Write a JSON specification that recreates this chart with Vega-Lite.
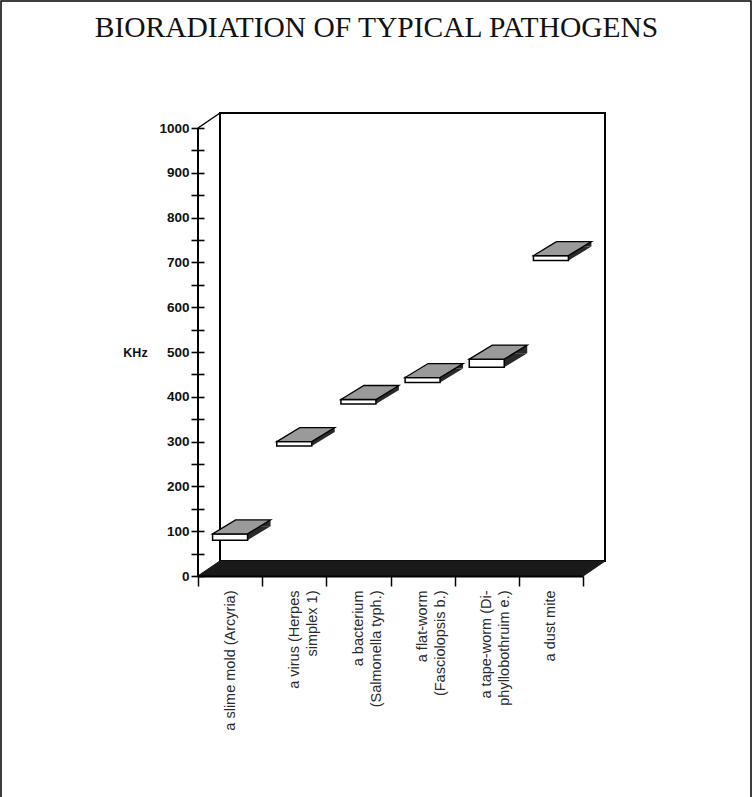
{
  "$schema": "https://vega.github.io/schema/vega-lite/v6.json",
  "width": 385,
  "height": 448,
  "autosize": {"type": "none"},
  "padding": {"left": 198, "top": 128, "right": 170, "bottom": 221},
  "background": "white",
  "config": {"view": {"stroke": null}},
  "title": {
    "text": "BIORADIATION OF TYPICAL PATHOGENS",
    "font": "Liberation Serif",
    "fontSize": 29.5,
    "fontWeight": "normal",
    "color": "#111111",
    "anchor": "middle",
    "offset": 0,
    "baseline": "alphabetic",
    "dx": -14,
    "dy": 66
  },
  "data": {
    "values": [
      {"item": "a slime mold (Arcyria)", "lo": 80, "hi": 94},
      {"item": "a virus (Herpes\nsimplex 1)", "lo": 290, "hi": 300},
      {"item": "a bacterium\n(Salmonella typh.)", "lo": 384, "hi": 394},
      {"item": "a flat-worm\n(Fasciolopsis b.)", "lo": 432, "hi": 443},
      {"item": "a tape-worm (Di-\nphyllobothruim e.)", "lo": 466, "hi": 484},
      {"item": "a dust mite", "lo": 704, "hi": 715}
    ]
  },
  "layer": [
    {
      "data": {"values": [{}]},
      "mark": {"type": "rect", "fillOpacity": 0, "stroke": "black", "strokeWidth": 1.5, "xOffset": -197, "x2Offset": 168, "yOffset": -127, "y2Offset": 240},
      "encoding": {
        "x": {"value": 0},
        "x2": {"value": "width"},
        "y": {"value": 0},
        "y2": {"value": "height"}
      }
    },
    {
      "data": {"values": [{}]},
      "mark": {"type": "rect", "fill": "white", "stroke": "black", "strokeWidth": 2, "xOffset": 22, "x2Offset": 22, "yOffset": -15, "y2Offset": -15},
      "encoding": {
        "x": {"value": 0},
        "x2": {"value": "width"},
        "y": {"datum": 1000, "type": "quantitative"},
        "y2": {"datum": 0}
      }
    },
    {
      "data": {"values": [{}]},
      "mark": {"type": "rule", "stroke": "black", "strokeWidth": 1.5, "x2Offset": 22, "y2Offset": -15},
      "encoding": {
        "x": {"value": 0},
        "x2": {"value": 0},
        "y": {"datum": 1000, "type": "quantitative"},
        "y2": {"datum": 1000}
      }
    },
    {
      "data": {"values": [{}]},
      "mark": {"type": "rule", "stroke": "black", "strokeWidth": 2},
      "encoding": {
        "x": {"value": 0},
        "y": {"datum": 0, "type": "quantitative"},
        "y2": {"datum": 1000}
      }
    },
    {
      "mark": {"type": "point", "shape": "M-32.3,0 L32.3,0 L54.3,-15 L-10.3,-15 Z", "size": 4, "filled": true, "fill": "#1a1a1a", "stroke": "#1a1a1a", "strokeWidth": 1, "opacity": 1},
      "encoding": {
        "x": {"field": "item", "type": "nominal", "sort": null},
        "y": {"datum": 0, "type": "quantitative"}
      }
    },
    {
      "mark": {"type": "point", "shape": "M-17.5,0 L17.5,0 L40.5,-14 L5.5,-14 Z", "size": 4, "filled": true, "fill": "#2a2a2a", "strokeWidth": 0, "opacity": 1},
      "encoding": {
        "x": {"field": "item", "type": "nominal", "sort": null},
        "y": {"field": "lo", "type": "quantitative"}
      }
    },
    {
      "mark": {"type": "bar", "width": {"band": 0.545}, "fill": "#2a2a2a", "strokeWidth": 0, "xOffset": 23, "yOffset": -14, "y2Offset": -14},
      "encoding": {
        "x": {"field": "item", "type": "nominal", "sort": null},
        "y": {"field": "lo", "type": "quantitative"},
        "y2": {"field": "hi"}
      }
    },
    {
      "mark": {"type": "bar", "width": {"band": 0.545}, "fill": "white", "stroke": "black", "strokeWidth": 1.5},
      "encoding": {
        "x": {
          "field": "item",
          "type": "nominal",
          "sort": null,
          "scale": {"paddingInner": 0, "paddingOuter": 0},
          "axis": {
            "title": null,
            "tickBand": "extent",
            "tickSize": 10,
            "tickWidth": 1.5,
            "tickColor": "black",
            "domainColor": "black",
            "domainWidth": 2,
            "labelAngle": 270,
            "labelAlign": "right",
            "labelBaseline": "middle",
            "labelPadding": 4,
            "labelFont": "Liberation Sans",
            "labelFontSize": 14.5,
            "labelColor": "#2a2a2a",
            "labelLineHeight": 18,
            "labelLimit": 0,
            "labelOverlap": false,
            "labelExpr": "split(datum.label, '\\n')",
            "zindex": 1
          }
        },
        "y": {
          "field": "lo",
          "type": "quantitative",
          "scale": {"domain": [0, 1000], "nice": false},
          "axis": {
            "title": "KHz",
            "tickCount": 20,
            "format": "d",
            "labelExpr": "datum.value % 100 === 0 ? datum.label : ''",
            "offset": -6,
            "tickSize": 13,
            "tickWidth": 1.6,
            "tickColor": "black",
            "ticks": true,
            "domain": false,
            "grid": false,
            "labelFont": "Liberation Sans",
            "labelFontSize": 13.5,
            "labelFontWeight": "bold",
            "labelColor": "#111111",
            "labelPadding": 2,
            "labelOverlap": false,
            "labelFlush": false,
            "titleAngle": 0,
            "titleAlign": "center",
            "titleBaseline": "middle",
            "titleX": -69,
            "titleY": 224,
            "titleFont": "Liberation Sans",
            "titleFontSize": 12.5,
            "titleFontWeight": "bold",
            "titleColor": "#111111",
            "zindex": 1
          }
        },
        "y2": {"field": "hi"}
      }
    },
    {
      "mark": {"type": "point", "shape": "M-17.5,0 L17.5,0 L40.5,-14 L5.5,-14 Z", "size": 4, "filled": true, "fill": "#9a9a9a", "stroke": "black", "strokeWidth": 1.3, "opacity": 1},
      "encoding": {
        "x": {"field": "item", "type": "nominal", "sort": null},
        "y": {"field": "hi", "type": "quantitative"}
      }
    }
  ]
}
